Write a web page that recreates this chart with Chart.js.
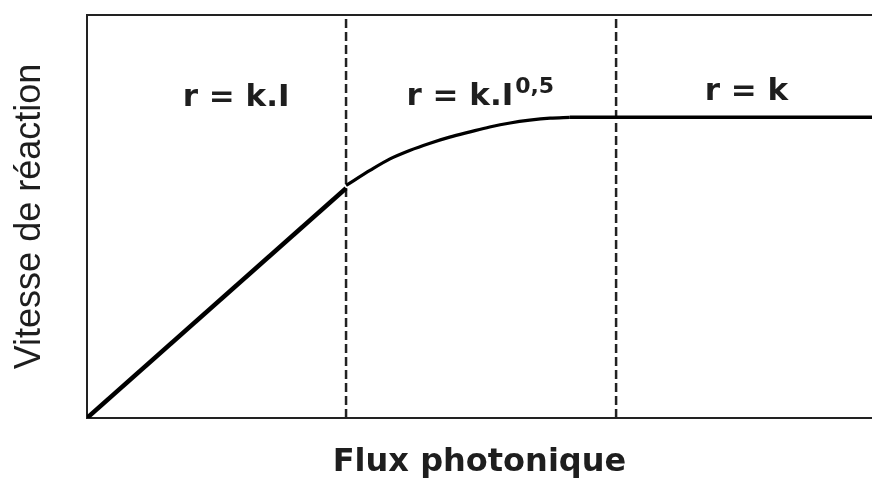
<!DOCTYPE html>
<html>
<head>
<meta charset="utf-8">
<title>Vitesse de réaction</title>
<script src="https://cdn.jsdelivr.net/npm/chart.js@4/dist/chart.umd.min.js"></script>
<style>
  html, body { margin: 0; padding: 0; background: #fff; }
  #wrap { width: 872px; height: 479px; position: relative; }
</style>
</head>
<body>
<div id="wrap"><canvas id="chart"></canvas></div>
<script>
// régime linéaire (r = k.I)
const linearX = [0, 33.0];
const linearY = [0, 57.0];
// régime en racine (r = k.I^0,5)
const curveX = [33.0, 36.1, 38.6, 41.1, 43.7, 46.2, 48.8, 51.3, 53.9, 56.4, 59.0, 61.5];
const curveY = [57.7, 61.5, 64.3, 66.4, 68.2, 69.7, 71.0, 72.2, 73.2, 73.9, 74.4, 74.6];
// palier (r = k)
const flatX = [61.5, 100];
const flatY = [74.6, 74.6];
// limites des régimes (lignes pointillées)
const limitsX = [33.0, 67.4];

// étiquettes des régimes
const labelText = ['r = k.I', 'r = k.I', 'r = k'];
const labelSup = ['', '0,5', ''];
const labelX = [19.0, 50.1, 84.0];
const labelY = [77.4, 77.7, 78.9];

const ink = '#1e1e1e';
const pts = (xs, ys) => xs.map((v, i) => ({ x: v, y: ys[i] }));

const datasets = [
  { data: pts(linearX, linearY), borderColor: '#000', borderWidth: 4.5, tension: 0 },
  { data: pts(curveX, curveY), borderColor: '#000', borderWidth: 3.2, cubicInterpolationMode: 'monotone' },
  { data: pts(flatX, flatY), borderColor: '#000', borderWidth: 3.5, tension: 0 }
];
limitsX.forEach(lx => {
  datasets.push({
    data: [{ x: lx, y: 0 }, { x: lx, y: 100 }],
    borderColor: '#222', borderWidth: 2.5, borderDash: [9, 4], tension: 0
  });
});
datasets.forEach(d => { d.pointRadius = 0; d.fill = false; });

// textes dans le graphe
const regionLabels = {
  id: 'regionLabels',
  afterDatasetsDraw(chart) {
    const { ctx, scales: { x, y } } = chart;
    ctx.save();
    ctx.fillStyle = ink;
    ctx.textAlign = 'left';
    ctx.textBaseline = 'alphabetic';
    labelText.forEach((txt, i) => {
      ctx.font = 'bold 31px "DejaVu Sans"';
      const w1 = ctx.measureText(txt).width;
      const sup = labelSup[i];
      ctx.font = 'bold 22px "DejaVu Sans"';
      const w2 = sup ? ctx.measureText(sup).width + 2 : 0;
      const left = x.getPixelForValue(labelX[i]) - (w1 + w2) / 2;
      const base = y.getPixelForValue(labelY[i]);
      ctx.font = 'bold 31px "DejaVu Sans"';
      ctx.fillText(txt, left, base);
      if (sup) {
        ctx.font = 'bold 22px "DejaVu Sans"';
        ctx.fillText(sup, left + w1 + 2, base - 12);
      }
    });
    ctx.restore();
  }
};

new Chart(document.getElementById('chart'), {
  type: 'line',
  data: { datasets },
  plugins: [regionLabels],
  options: {
    responsive: true,
    maintainAspectRatio: false,
    animation: false,
    layout: { padding: 0 },
    plugins: { legend: { display: false }, tooltip: { enabled: false } },
    scales: {
      x: {
        type: 'linear', min: 0, max: 100, position: 'bottom',
        ticks: { display: false },
        grid: { display: false, drawTicks: false },
        border: { display: true, color: '#222', width: 2 },
        title: {
          display: true, text: 'Flux photonique', color: ink,
          font: { family: '"DejaVu Sans"', size: 32, weight: 'bold', lineHeight: 1 },
          padding: { top: 0, bottom: 0 }
        },
        afterFit: s => { s.height = 61; }
      },
      x2: {
        type: 'linear', min: 0, max: 100, position: 'top',
        ticks: { display: false },
        grid: { display: false, drawTicks: false },
        border: { display: true, color: '#222', width: 2 },
        afterFit: s => { s.height = 15; }
      },
      y: {
        type: 'linear', min: 0, max: 100,
        ticks: { display: false },
        grid: { display: false, drawTicks: false },
        border: { display: true, color: '#222', width: 2 },
        title: {
          display: true, text: 'Vitesse de réaction', color: ink,
          font: { family: '"Liberation Sans"', size: 36, weight: 'normal', lineHeight: 1.2 },
          padding: { top: 8, bottom: 0 }
        },
        afterFit: s => { s.width = 87; }
      }
    }
  }
});
</script>
</body>
</html>
